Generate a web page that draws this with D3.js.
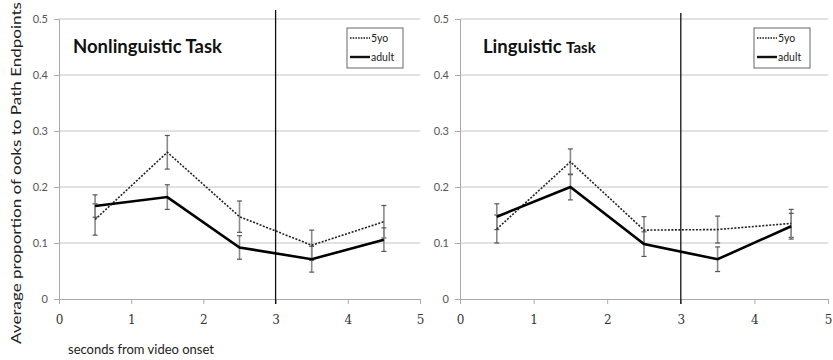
<!DOCTYPE html>
<html>
<head>
<meta charset="utf-8">
<script src="https://cdn.jsdelivr.net/npm/d3@7"></script>
<style>
  body { margin: 0; background: #fff; }
  svg { display: block; }
</style>
</head>
<body>
<div id="chart"></div>
<script>
// Data
var timePoints = [0.5, 1.5, 2.5, 3.5, 4.5];
var seriesNames = ["5yo", "adult"];
var xTickValues = [0, 1, 2, 3, 4, 5];
var yTickValues = [0, 0.1, 0.2, 0.3, 0.4, 0.5];
var onsetMark = 3;

// Nonlinguistic task
var nonling5yo = [0.142, 0.262, 0.147, 0.096, 0.138];
var nonling5yoErr = [0.028, 0.030, 0.028, 0.027, 0.029];
var nonlingAdult = [0.166, 0.182, 0.092, 0.071, 0.106];
var nonlingAdultErr = [0.020, 0.022, 0.021, 0.023, 0.021];

// Linguistic task
var ling5yo = [0.125, 0.245, 0.123, 0.124, 0.135];
var ling5yoErr = [0.025, 0.023, 0.024, 0.024, 0.025];
var lingAdult = [0.147, 0.200, 0.098, 0.071, 0.130];
var lingAdultErr = [0.023, 0.023, 0.022, 0.022, 0.023];

var svgWidth = 833;
var svgHeight = 360;

var svg = d3.select("#chart")
  .append("svg")
  .attr("width", svgWidth)
  .attr("height", svgHeight);

var yScale = d3.scaleLinear().domain([0, 0.5]).range([299, 19]);

function drawPanel(opts) {
  var x = d3.scaleLinear().domain([0, 5]).range([opts.left, opts.right]);
  var g = svg.append("g");

  // gridlines
  g.selectAll(".grid")
    .data(yTickValues.filter(d => d > 0))
    .enter()
    .append("line")
    .attr("x1", opts.left)
    .attr("x2", opts.right)
    .attr("y1", d => yScale(d))
    .attr("y2", d => yScale(d))
    .attr("stroke", "#c4c4c4")
    .attr("stroke-width", 1);

  // y axis
  var yAxis = g.append("g")
    .attr("transform", `translate(${opts.left},0)`)
    .call(d3.axisLeft(yScale).tickValues(yTickValues).tickSize(5).tickPadding(6)
      .tickFormat(d => d === 0 ? "0" : d3.format(".1f")(d)));
  yAxis.select(".domain").attr("stroke", "#aaa");
  yAxis.selectAll(".tick line").attr("stroke", "#aaa");
  yAxis.selectAll("text")
    .attr("fill", "#555")
    .style("font-family", "Lato, sans-serif")
    .style("font-size", "11px");

  // x axis
  var xAxis = g.append("g")
    .attr("transform", `translate(0,${yScale(0)})`)
    .call(d3.axisBottom(x).tickValues(xTickValues).tickSize(5).tickPadding(11)
      .tickFormat(d3.format("d")));
  xAxis.select(".domain").attr("stroke", "#aaa");
  xAxis.selectAll(".tick line").attr("stroke", "#aaa");
  xAxis.selectAll("text")
    .attr("fill", "#333")
    .style("font-family", "'DejaVu Serif', serif")
    .style("font-size", "12px");

  // onset line
  g.append("line")
    .attr("x1", x(onsetMark))
    .attr("x2", x(onsetMark))
    .attr("y1", opts.lineTop)
    .attr("y2", 304)
    .attr("stroke", "#111")
    .attr("stroke-width", 1.3);

  // error bars
  function errorBars(vals, errs) {
    var eg = g.append("g");
    timePoints.forEach(function(t, i) {
      var cx = x(t);
      var y1 = yScale(vals[i] + errs[i]);
      var y2 = yScale(vals[i] - errs[i]);
      eg.append("line")
        .attr("x1", cx).attr("x2", cx).attr("y1", y1).attr("y2", y2)
        .attr("stroke", "#8a8a8a").attr("stroke-width", 1.6);
      [y1, y2].forEach(function(yy) {
        eg.append("line")
          .attr("x1", cx - 2.5).attr("x2", cx + 2.5).attr("y1", yy).attr("y2", yy)
          .attr("stroke", "#555").attr("stroke-width", 1.2);
      });
    });
  }
  errorBars(opts.kid, opts.kidErr);
  errorBars(opts.adult, opts.adultErr);

  var line = d3.line()
    .x((d, i) => x(timePoints[i]))
    .y(d => yScale(d));

  g.append("path")
    .datum(opts.kid)
    .attr("d", line)
    .attr("fill", "none")
    .attr("stroke", "#222")
    .attr("stroke-width", 1.6)
    .attr("stroke-dasharray", "2,1.5");

  g.append("path")
    .datum(opts.adult)
    .attr("d", line)
    .attr("fill", "none")
    .attr("stroke", "#000")
    .attr("stroke-width", 2.6);

  // title
  var title = g.append("text")
    .attr("x", opts.titleX)
    .attr("y", 53)
    .style("font-family", "Lato, sans-serif")
    .style("font-weight", "bold")
    .attr("fill", "#111");
  opts.title.forEach(function(part) {
    title.append("tspan")
      .style("font-size", part.size + "px")
      .text(part.text);
  });

  // legend
  var lg = g.append("g").attr("transform", `translate(${opts.legendX},28)`);
  lg.append("rect")
    .attr("width", 56).attr("height", 40)
    .attr("fill", "#fff").attr("stroke", "#666").attr("stroke-width", 1);
  seriesNames.forEach(function(name, i) {
    var ly = 10 + i * 19;
    lg.append("line")
      .attr("x1", 3).attr("x2", 23).attr("y1", ly).attr("y2", ly)
      .attr("stroke", "#111")
      .attr("stroke-width", i === 0 ? 1.4 : 2.4)
      .attr("stroke-dasharray", i === 0 ? "1.5,1.2" : null);
    lg.append("text")
      .attr("x", 24).attr("y", ly + 3.5)
      .style("font-family", "Lato, sans-serif")
      .style("font-size", "10.5px")
      .attr("fill", "#222")
      .text(name);
  });
}

drawPanel({
  left: 59, right: 420, lineTop: 10, legendX: 347, titleX: 73,
  kid: nonling5yo, kidErr: nonling5yoErr,
  adult: nonlingAdult, adultErr: nonlingAdultErr,
  title: [{ text: "Nonlinguistic Task", size: 18.5 }]
});

drawPanel({
  left: 460, right: 828, lineTop: 13, legendX: 754, titleX: 483,
  kid: ling5yo, kidErr: ling5yoErr,
  adult: lingAdult, adultErr: lingAdultErr,
  title: [{ text: "Linguistic ", size: 18.5 }, { text: "Task", size: 15 }]
});

// axis titles
svg.append("text")
  .attr("transform", "translate(21,173) rotate(-90)")
  .attr("text-anchor", "middle")
  .style("font-family", "Lato, sans-serif")
  .style("font-size", "14px")
  .attr("fill", "#222")
  .attr("textLength", 342)
  .attr("lengthAdjust", "spacingAndGlyphs")
  .text("Average proportion of  ooks to Path Endpoints");

svg.append("text")
  .attr("x", 68)
  .attr("y", 354)
  .style("font-family", "Lato, sans-serif")
  .style("font-size", "13px")
  .attr("fill", "#222")
  .text("seconds from video onset");
</script>
</body>
</html>
